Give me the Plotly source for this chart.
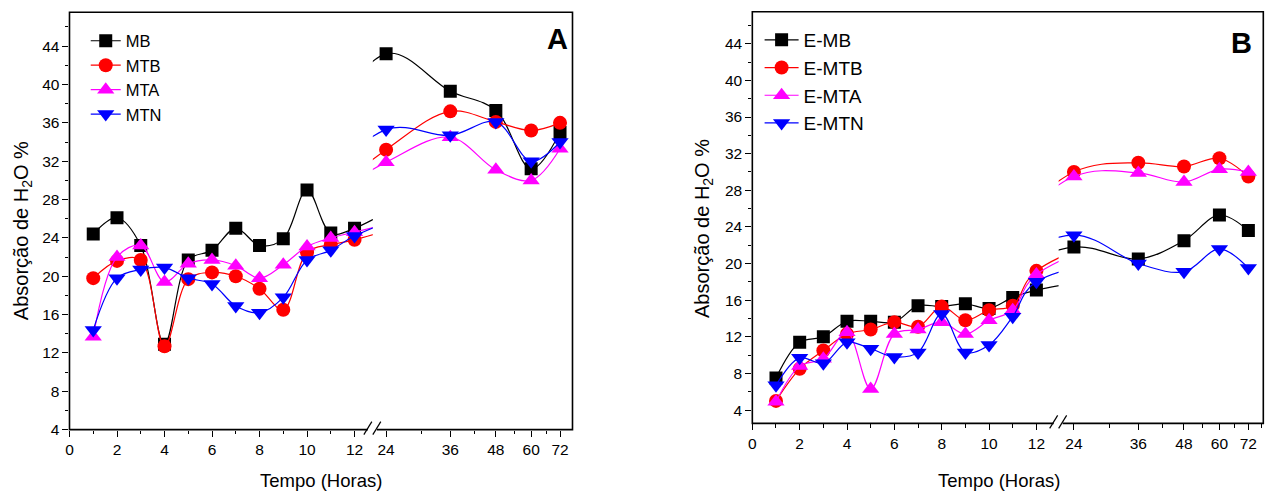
import plotly.graph_objects as go
import math

# ---------------- data ----------------
horas_curto = [1, 2, 3, 4, 5, 6, 7, 8, 9, 10, 11, 12]
horas_longo = [24, 36, 48, 60, 72]

# Panel A
MB_curto = [24.4, 26.1, 23.2, 12.9, 21.7, 22.7, 25.0, 23.2, 23.9, 29.0, 24.5, 25.0]
MB_longo = [43.2, 39.3, 37.3, 31.2, 35.0]
MTB_curto = [19.8, 21.6, 21.7, 12.7, 19.7, 20.4, 20.0, 18.7, 16.5, 22.5, 23.3, 23.8]
MTB_longo = [33.2, 37.2, 36.1, 35.2, 36.0]
MTA_curto = [13.7, 22.0, 23.2, 19.4, 21.3, 21.7, 21.1, 19.8, 21.2, 23.1, 24.0, 24.6]
MTA_longo = [31.9, 34.5, 31.1, 30.0, 33.3]
MTN_curto = [14.4, 19.8, 20.7, 20.9, 19.8, 19.2, 16.9, 16.2, 17.8, 21.7, 22.7, 24.2]
MTN_longo = [35.3, 34.7, 36.1, 32.0, 34.0]

# Panel B
EMB_curto = [7.5, 11.4, 12.0, 13.7, 13.7, 13.6, 15.4, 15.3, 15.6, 15.1, 16.3, 17.1]
EMB_longo = [21.8, 20.5, 22.5, 25.3, 23.6]
EMTB_curto = [5.0, 8.5, 10.5, 12.3, 12.8, 13.6, 13.1, 15.3, 13.8, 14.9, 15.4, 19.2]
EMTB_longo = [30.0, 31.0, 30.6, 31.5, 29.5]
EMTA_curto = [4.9, 8.8, 9.6, 12.5, 6.3, 12.3, 12.8, 13.6, 12.3, 13.8, 14.9, 18.8]
EMTA_longo = [29.5, 29.9, 28.9, 30.3, 30.0]
EMTN_curto = [6.7, 9.7, 9.1, 11.4, 10.7, 9.8, 10.3, 14.5, 10.3, 11.1, 14.2, 18.0]
EMTN_longo = [23.1, 20.0, 19.1, 21.6, 19.5]

nomes_A = ["MB", "MTB", "MTA", "MTN"]
nomes_B = ["E-MB", "E-MTB", "E-MTA", "E-MTN"]
series_A = [(MB_curto, MB_longo), (MTB_curto, MTB_longo), (MTA_curto, MTA_longo), (MTN_curto, MTN_longo)]
series_B = [(EMB_curto, EMB_longo), (EMTB_curto, EMTB_longo), (EMTA_curto, EMTA_longo), (EMTN_curto, EMTN_longo)]

x_ticks_curto = [0, 2, 4, 6, 8, 10, 12]
x_ticks_longo = [24, 36, 48, 60, 72]
x_minor_longo = [30, 42, 54, 66, 78]
y_ticks = [4, 8, 12, 16, 20, 24, 28, 32, 36, 40, 44]

# ---------------- style ----------------
cores = ["#000000", "#FF0000", "#FF00FF", "#0000FF"]
simbolos = ["square", "circle", "triangle-up", "triangle-down"]
tamanhos = [13, 14, 15, 15]
FONT = "Liberation Sans, Arial, Helvetica, sans-serif"

W, H = 1265, 494
YS = 0.983  # vertical correction observed in the rendered page


def px(x):
    return x / W


def py(y):
    return 1 - (y / YS) / H


fig = go.Figure()


def add_panel(series, nomes, xa1, xa2, ya, legend):
    for i, ((curto, longo), nome) in enumerate(zip(series, nomes)):
        common = dict(mode="lines+markers", name=nome, legend=legend, yaxis=ya,
                      line=dict(color=cores[i], width=1.2, shape="spline", smoothing=1.0),
                      marker=dict(symbol=simbolos[i], size=tamanhos[i], color=cores[i], line=dict(width=0)))
        fig.add_trace(go.Scatter(x=horas_curto + [horas_longo[0]], y=curto + [longo[0]],
                                 xaxis=xa1, showlegend=True, **common))
        fig.add_trace(go.Scatter(x=[horas_curto[-1]] + horas_longo, y=[curto[-1]] + longo,
                                 xaxis=xa2, showlegend=False, **common))


add_panel(series_A, nomes_A, "x", "x2", "y", "legend")
add_panel(series_B, nomes_B, "x3", "x4", "y2", "legend2")

tickfont = dict(family=FONT, size=15.5, color="#000")
minor_style = dict(ticks="outside", ticklen=3.5, tickwidth=1.2, tickcolor="#000")


def xlin(domain, rng, anchor):
    return dict(domain=domain, range=rng, anchor=anchor, showgrid=False, zeroline=False,
                showline=False, tickvals=x_ticks_curto, ticks="outside", ticklen=6, tickwidth=1.2,
                tickcolor="#000", tickfont=tickfont, minor=dict(dtick=1, **minor_style))


def xlog(domain, rng, anchor):
    return dict(domain=domain, type="log", range=rng, anchor=anchor, showgrid=False, zeroline=False,
                showline=False, tickvals=x_ticks_longo, ticktext=[str(v) for v in x_ticks_longo],
                ticks="outside", ticklen=6, tickwidth=1.2, tickcolor="#000", tickfont=tickfont,
                minor=dict(tickvals=x_minor_longo, **minor_style))


def yax(domain, rng, anchor):
    return dict(domain=domain, range=rng, anchor=anchor, showgrid=False, zeroline=False,
                showline=False, tickvals=y_ticks, ticks="outside", ticklen=6, tickwidth=1.2,
                tickcolor="#000", tickfont=tickfont, minor=dict(dtick=2, **minor_style))


# Panel geometry in page pixels
A_l, A_brk, A_r, A_t, A_b = 65.7, 370.0, 570.3, 12.3, 429.3
B_l, B_brk, B_r, B_t, B_b = 750.7, 1058.0, 1263.3, 11.7, 423.0

fig.update_layout(
    xaxis=xlin([px(A_l), px(A_brk)], [0, 12.77], "y"),
    xaxis2=xlog([px(A_brk), px(A_r)], [math.log10(22.07), math.log10(77.9)], "y"),
    yaxis=yax([py(A_b), py(A_t)], [4, 47.53], "x"),
    xaxis3=xlin([px(B_l), px(B_brk)], [0, 12.94], "y2"),
    xaxis4=xlog([px(B_brk), px(B_r)], [math.log10(21.8), math.log10(79.1)], "y2"),
    yaxis2=yax([py(B_b), py(B_t)], [2.55, 47.5], "x3"),
)

fig.update_layout(
    legend=dict(x=px(82), y=py(23.5), xanchor="left", yanchor="top", bgcolor="rgba(0,0,0,0)",
                font=dict(family=FONT, size=16.5, color="#000"), itemwidth=30),
    legend2=dict(x=px(758), y=py(21), xanchor="left", yanchor="top", bgcolor="rgba(0,0,0,0)",
                 font=dict(family=FONT, size=19, color="#000"), itemwidth=34),
)

shapes = []
for (l, brk, r, t, b) in [(A_l, A_brk, A_r, A_t, A_b), (B_l, B_brk, B_r, B_t, B_b)]:
    shapes.append(dict(type="rect", xref="paper", yref="paper", x0=px(l), x1=px(r), y0=py(b), y1=py(t),
                       line=dict(color="#000", width=1.6), fillcolor="rgba(0,0,0,0)", layer="above"))
    shapes.append(dict(type="rect", xref="paper", yref="paper", x0=px(brk - 5), x1=px(brk + 4),
                       y0=py(b + 2), y1=py(b - 2), line=dict(width=0), fillcolor="white", layer="above"))
    for dx in (-5, 4):
        shapes.append(dict(type="line", xref="paper", yref="paper",
                           x0=px(brk + dx - 4), y0=py(b + 5), x1=px(brk + dx + 4), y1=py(b - 8),
                           line=dict(color="#000", width=1.2), layer="above"))


def ann(text, x, y, size, angle=0):
    return dict(text=text, x=px(x), y=py(y), xref="paper", yref="paper", showarrow=False,
                xanchor="center", yanchor="middle", textangle=angle,
                font=dict(family=FONT, size=size, color="#000"))


annots = [
    ann("<b>A</b>", 555.3, 39, 29),
    ann("<b>B</b>", 1241.7, 42.5, 29),
    ann("Tempo (Horas)", 318, 480, 18.5),
    ann("Tempo (Horas)", 998, 480, 18.5),
    ann("Absorção de H<sub>2</sub>O %", 18, 230, 20, -90),
    ann("Absorção de H<sub>2</sub>O %", 701, 228, 20, -90),
]

fig.update_layout(
    width=W, height=H, margin=dict(l=0, r=0, t=0, b=0),
    paper_bgcolor="white", plot_bgcolor="white",
    shapes=shapes, annotations=annots,
    font=dict(family=FONT, color="#000"),
)

fig.write_html("out.html", config={"displayModeBar": False},
               post_script="document.body.style.margin='0';document.body.style.overflow='hidden';")
